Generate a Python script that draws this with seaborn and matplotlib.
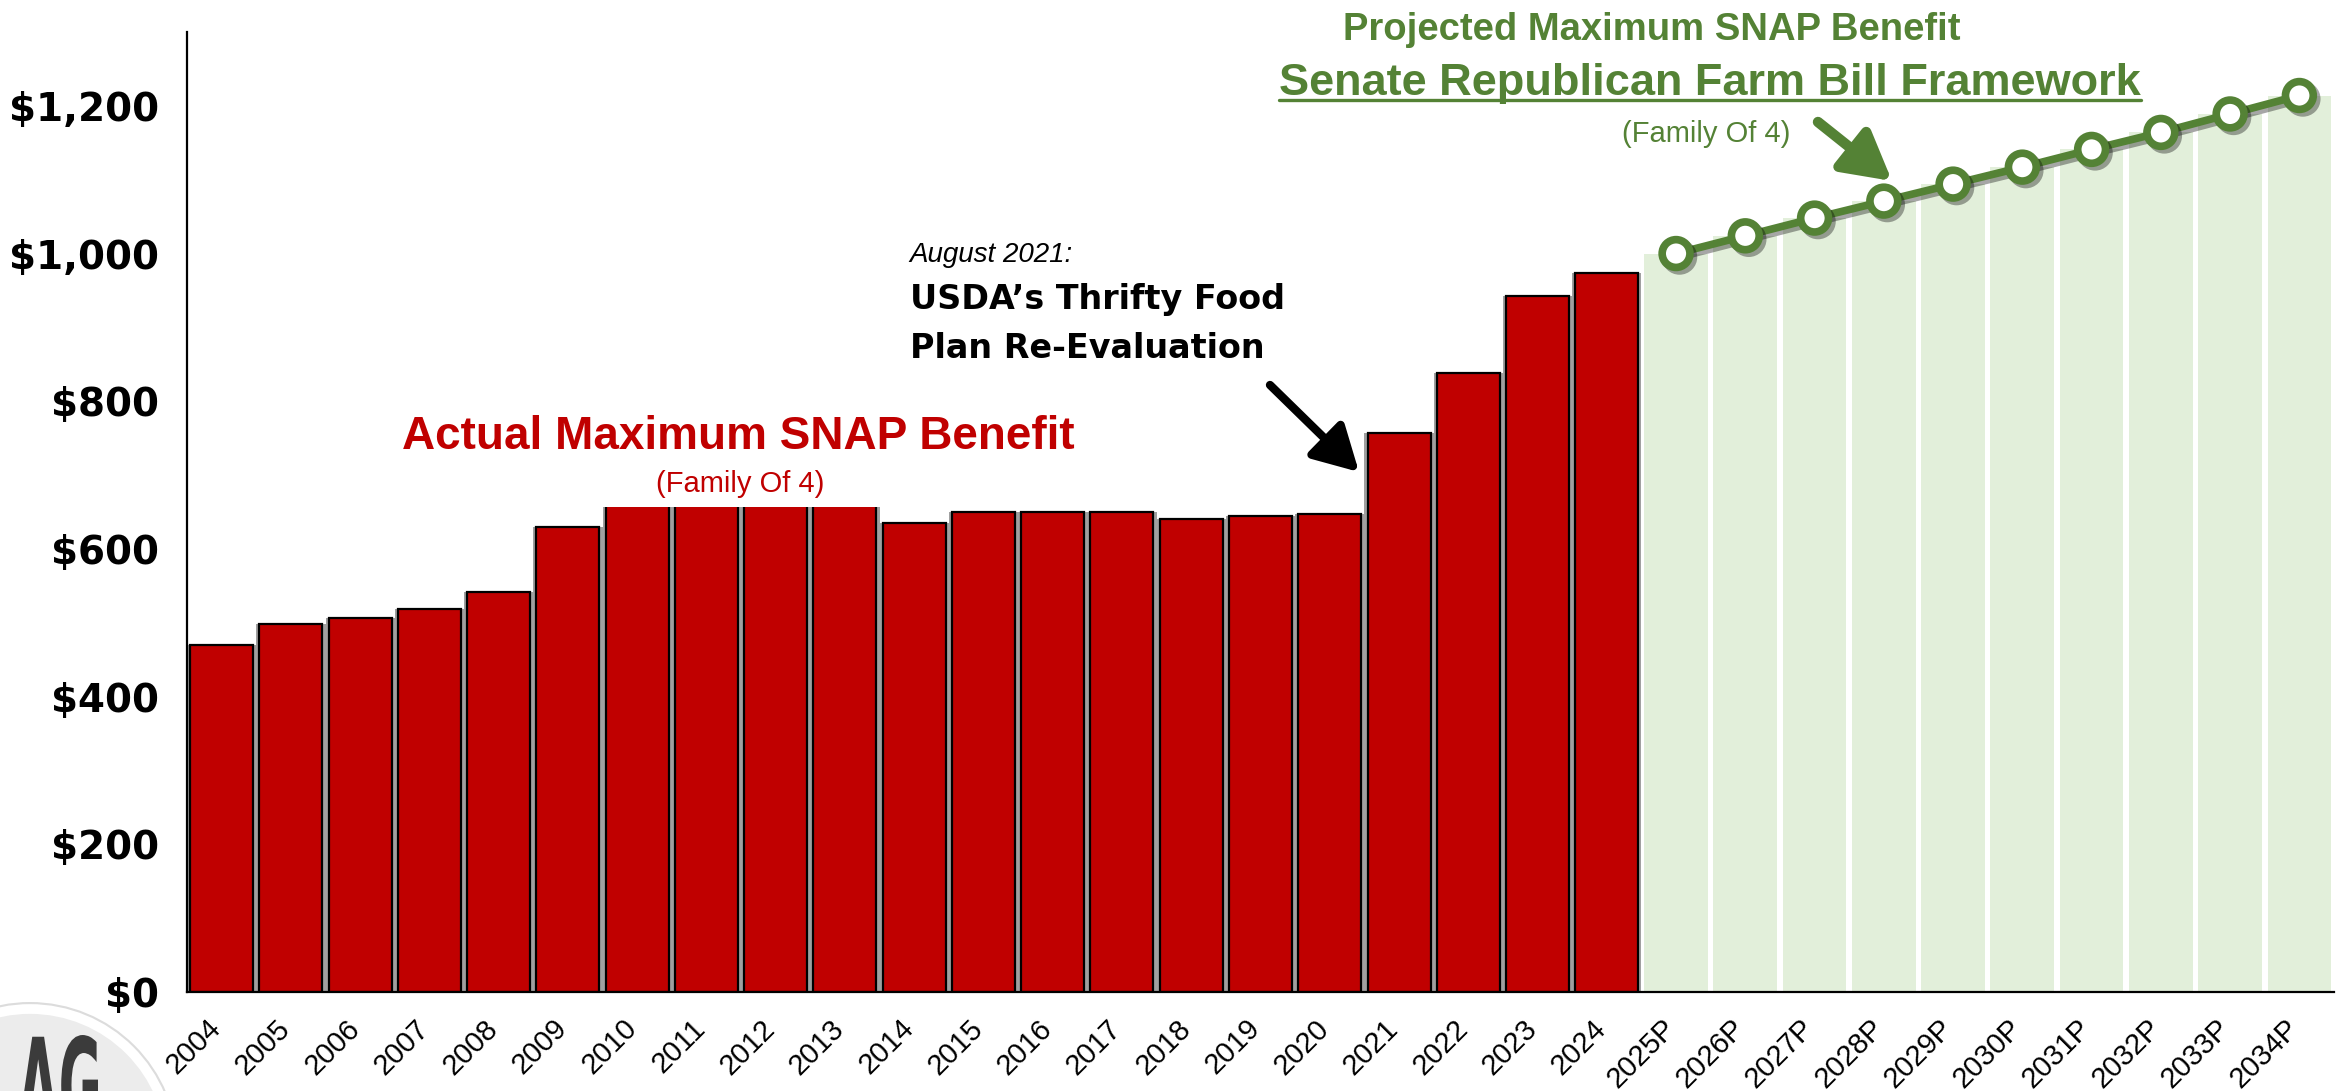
import matplotlib
matplotlib.use("Agg")
import numpy as np
import pandas as pd
import matplotlib.pyplot as plt
import seaborn as sns
import matplotlib.patheffects as pe
from matplotlib.patches import Circle, PathPatch
from matplotlib.lines import Line2D
from matplotlib.textpath import TextPath
from matplotlib.font_manager import FontProperties
from matplotlib.transforms import Affine2D, IdentityTransform, ScaledTranslation

# ---------------- data ----------------
actual_years = ["2004", "2005", "2006", "2007", "2008", "2009", "2010", "2011", "2012",
                "2013", "2014", "2015", "2016", "2017", "2018", "2019", "2020", "2021",
                "2022", "2023", "2024"]
actual_values = [470, 499, 507, 519, 542, 630, 668, 668, 668, 668, 635, 650, 650, 650,
                 641, 644, 647, 757, 838, 942, 974]
projected_years = ["2025P", "2026P", "2027P", "2028P", "2029P", "2030P", "2031P",
                   "2032P", "2033P", "2034P"]
projected_values = [1000, 1024, 1048, 1071, 1094, 1117, 1141, 1164, 1189, 1214]
y_ticks = [0, 200, 400, 600, 800, 1000, 1200]

RED = "#c00000"
GREEN = "#548235"
LIGHT_GREEN = "#e2efda"
SHADOW = "#a0a0a0"

W, H = 2343, 1091

sns.set_style("white")
plt.rcParams["font.family"] = ["Liberation Sans", "DejaVu Sans"]
plt.rcParams["text.color"] = "black"
plt.rcParams["xtick.color"] = "black"
plt.rcParams["ytick.color"] = "black"
plt.rcParams["xtick.labelcolor"] = "black"
plt.rcParams["ytick.labelcolor"] = "black"

fig = plt.figure(figsize=(W / 100, H / 100), dpi=100)
ax = fig.add_axes([187 / W, 1 - 992 / H, (2334 - 187) / W, (992 - 32) / H])

order = actual_years + projected_years
df_a = pd.DataFrame({"year": actual_years, "value": actual_values})
df_p = pd.DataFrame({"year": projected_years, "value": projected_values})

# shadow behind actual bars
sns.barplot(data=df_a, x="year", y="value", order=order, color=SHADOW, width=1.0,
            errorbar=None, saturation=1, linewidth=0, ax=ax, zorder=1)
# actual bars
sns.barplot(data=df_a, x="year", y="value", order=order, color=RED, width=0.91,
            errorbar=None, saturation=1, edgecolor="black", linewidth=1.6, ax=ax, zorder=2)
# projected bars
sns.barplot(data=df_p, x="year", y="value", order=order, color=LIGHT_GREEN, width=0.92,
            errorbar=None, saturation=1, linewidth=0, ax=ax, zorder=1)

# projected line
positions = [order.index(y) for y in projected_years]
sns.lineplot(x=positions, y=projected_values, ax=ax, color=GREEN, linewidth=5.5,
             marker="o", markersize=20, markerfacecolor="white",
             markeredgecolor=GREEN, markeredgewidth=5.5, zorder=6,
             path_effects=[pe.SimpleLineShadow(offset=(2.5, -2.5), shadow_color="black",
                                               alpha=0.35), pe.Normal()])
ln = ax.lines[-1]
ln.set_markerfacecolor("white")
ln.set_markeredgecolor(GREEN)
ln.set_markeredgewidth(5.5)
ln.set_clip_on(False)

ax.set_xlabel("")
ax.set_ylabel("")
ax.set_xlim(-0.5, len(order) - 0.5)
ax.set_ylim(0, 1300)

ax.set_xticks(range(len(order)))
ax.set_xticklabels(order, rotation=45, ha="right", va="top", fontsize=21,
                   fontfamily="Liberation Sans", color="black")
ax.tick_params(axis="x", which="major", length=0, pad=16)
ax.set_xticks(np.arange(-0.5, len(order), 1.0), minor=True)
ax.tick_params(axis="x", which="minor", length=6, width=1.5, direction="out", color="black")
shift = ScaledTranslation(5 / 100, 0, fig.dpi_scale_trans)
for lab in ax.get_xticklabels():
    lab.set_transform(lab.get_transform() + shift)

ax.set_yticks(y_ticks, labels=[f"${v:,}" for v in y_ticks], fontsize=28,
              fontweight="bold", fontfamily="DejaVu Sans", color="black")
ax.tick_params(axis="y", length=9, width=1.5, direction="out", color="black", pad=11)

for s in ["top", "right"]:
    ax.spines[s].set_visible(False)
for s in ["left", "bottom"]:
    ax.spines[s].set_linewidth(1.6)
    ax.spines[s].set_color("black")


def T(x, y, s, **kw):
    return fig.text(x / W, 1 - y / H, s, **kw)


# Actual annotation (white box hides bar tops like the original text box)
T(738, 449, "Actual Maximum SNAP Benefit", ha="center", va="baseline", fontsize=33,
  fontweight="bold", color=RED, fontfamily="Liberation Sans", zorder=3,
  bbox=dict(boxstyle="square,pad=1.05", fc="white", ec="none"))
T(740, 492, "(Family Of 4)", ha="center", va="baseline", fontsize=21, color=RED,
  fontfamily="Liberation Sans", zorder=4)

# USDA annotation
T(909, 262, "August 2021:", ha="left", va="baseline", fontsize=20, style="italic",
  color="black", fontfamily="Liberation Sans", zorder=5)
T(910, 309, "USDA\u2019s Thrifty Food", ha="left", va="baseline", fontsize=24,
  fontweight="bold", color="black", fontfamily="DejaVu Sans", zorder=5)
T(910, 358, "Plan Re-Evaluation", ha="left", va="baseline", fontsize=24,
  fontweight="bold", color="black", fontfamily="DejaVu Sans", zorder=5)

# Projected annotation
T(1652, 40, "Projected Maximum SNAP Benefit", ha="center", va="baseline", fontsize=27.5,
  fontweight="bold", color=GREEN, fontfamily="Liberation Sans", zorder=5)
senate = T(1710, 95, "Senate Republican Farm Bill Framework", ha="center", va="baseline",
           fontsize=32.5, fontweight="bold", color=GREEN, fontfamily="Liberation Sans",
           zorder=5)
T(1706, 142, "(Family Of 4)", ha="center", va="baseline", fontsize=21, color=GREEN,
  fontfamily="Liberation Sans", zorder=5)

# arrows
ax.annotate("", xy=(1359, H - 472), xytext=(1270, H - 385), xycoords="figure pixels",
            textcoords="figure pixels", annotation_clip=False,
            arrowprops=dict(arrowstyle="-|>,head_length=0.9,head_width=0.5",
                            mutation_scale=30, lw=6, color="black", shrinkA=0, shrinkB=0))
ax.annotate("", xy=(1892, H - 181), xytext=(1818, H - 122), xycoords="figure pixels",
            textcoords="figure pixels", annotation_clip=False,
            arrowprops=dict(arrowstyle="-|>,head_length=0.9,head_width=0.5",
                            mutation_scale=32, lw=7.5, color=GREEN, shrinkA=0, shrinkB=0))

# logo (bottom-left)
px = Affine2D().scale(1 / 100) + fig.dpi_scale_trans
fig.add_artist(Circle((30, H - 1150), 148, transform=px, fc="#dcdcdc", ec="none", zorder=1))
fig.add_artist(Circle((30, H - 1150), 141, transform=px, fc="#ececec", ec="white",
                      lw=7, zorder=2))
tp = TextPath((0, 0), "AG", size=100,
              prop=FontProperties(family="Liberation Sans Narrow", weight="bold"))
ext = tp.get_extents()
sx = 80 / ext.width
sy = 100 / ext.height
tr = Affine2D().translate(-ext.x0, -ext.y0).scale(sx, sy).translate(18, H - 1035 - 100) + px
fig.add_artist(PathPatch(tp, transform=tr, fc="#3b3b3b", ec="none", zorder=3))

# underline for Senate line
fig.canvas.draw()
bb = senate.get_window_extent()
fig.add_artist(Line2D([bb.x0, bb.x1], [H - 100, H - 100], transform=IdentityTransform(),
                      color=GREEN, lw=2.4, zorder=5))

fig.savefig("out.png", dpi=100)
